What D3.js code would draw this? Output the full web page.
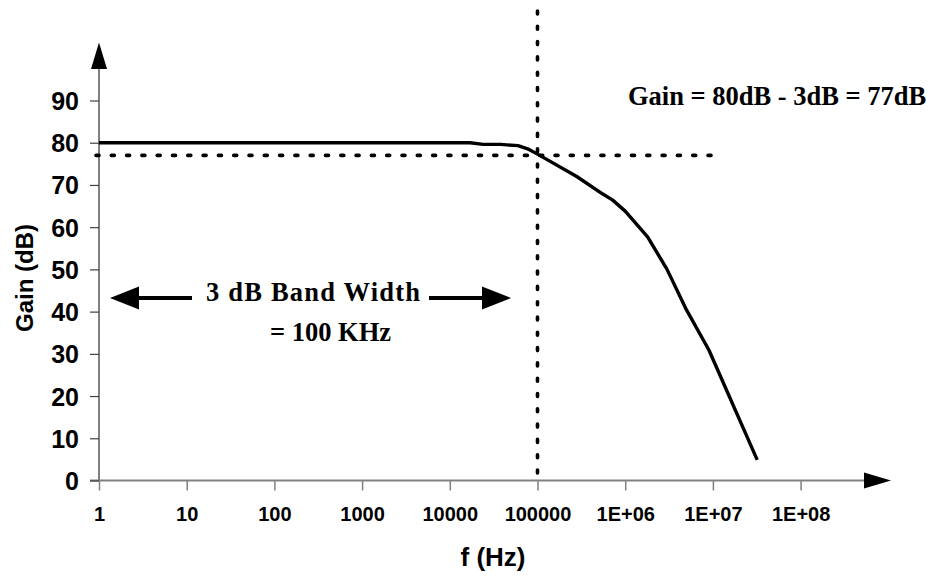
<!DOCTYPE html>
<html>
<head>
<meta charset="utf-8">
<script src="https://cdn.jsdelivr.net/npm/d3@7/dist/d3.min.js"></script>
<style>
  html, body { margin: 0; padding: 0; background: #fff; }
  svg { display: block; }
</style>
</head>
<body>
<svg id="chart" width="936" height="578"></svg>
<script>
// ---- data ----
const freq = [1, 10, 100, 1000, 10000, 17000, 24000, 38000, 60000, 80000, 100000, 280000, 550000, 720000, 1000000, 1800000, 3000000, 5000000, 9000000, 32000000];
const gain = [80, 80, 80, 80, 80, 80, 79.6, 79.6, 79.3, 78.4, 77.3, 72.0, 67.9, 66.4, 63.8, 57.7, 50.0, 40.4, 30.9, 4.9];
const xTickValues = [1, 10, 100, 1000, 10000, 100000, 1e6, 1e7, 1e8];
const xTickLabels = ["1", "10", "100", "1000", "10000", "100000", "1E+06", "1E+07", "1E+08"];
const yTickValues = [0, 10, 20, 30, 40, 50, 60, 70, 80, 90];
const bandwidthFreq = 100000;
const gain3dB = 77;
const gainNote = "Gain = 80dB - 3dB = 77dB";
const bwLine1 = "3 dB Band Width";
const bwLine2 = "= 100 KHz";
const xTitle = "f (Hz)";
const yTitle = "Gain (dB)";

// ---- layout ----
const svg = d3.select("#chart");
const x0 = 99, y0 = 480.5;
const x = d3.scaleLog().domain([1, 1e9]).range([x0, x0 + 9 * 87.7]);
const y = d3.scaleLinear().domain([0, 90]).range([y0, 100.5]);
const axisColor = "#808080";
const sans = "'Liberation Sans', Arial, sans-serif";
const serif = "'Liberation Serif', 'Times New Roman', serif";

// y axis line + arrow
svg.append("line").attr("x1", x0).attr("x2", x0).attr("y1", y0 + 1).attr("y2", 68)
  .attr("stroke", axisColor).attr("stroke-width", 2);
svg.append("path").attr("d", `M${x0},42.5 L${x0 - 8},69 L${x0 + 8},69 Z`).attr("fill", "#000");

// x axis line + arrow
svg.append("line").attr("x1", x0 - 9).attr("x2", 866).attr("y1", y0).attr("y2", y0)
  .attr("stroke", axisColor).attr("stroke-width", 2);
svg.append("path").attr("d", `M891,${y0} L864,${y0 - 8} L864,${y0 + 8} Z`).attr("fill", "#000");

// y axis ticks
const yAxis = d3.axisLeft(y).tickValues(yTickValues).tickSize(9).tickPadding(11).tickFormat(d3.format("d"));
const gy = svg.append("g").attr("transform", `translate(${x0},0)`).call(yAxis);
gy.select(".domain").remove();
gy.selectAll(".tick line").attr("stroke", "#404040").attr("stroke-width", 1.2);
gy.selectAll(".tick text").attr("font-family", sans).attr("font-weight", "bold")
  .attr("font-size", 25).attr("fill", "#000").attr("dy", "0.36em");

// x axis ticks
const xAxis = d3.axisBottom(x).tickValues(xTickValues).tickSize(10).tickPadding(16)
  .tickFormat((d, i) => xTickLabels[i]);
const gx = svg.append("g").attr("transform", `translate(0,${y0})`).call(xAxis);
gx.select(".domain").remove();
gx.selectAll(".tick line").attr("stroke", axisColor).attr("stroke-width", 1.5);
gx.selectAll(".tick text").attr("font-family", sans).attr("font-weight", "bold")
  .attr("font-size", 20).attr("fill", "#000");

// axis titles
svg.append("text").attr("x", 493).attr("y", 566).attr("text-anchor", "middle")
  .attr("font-family", sans).attr("font-weight", "bold").attr("font-size", 26).text(xTitle);
svg.append("text").attr("transform", "translate(33,278) rotate(-90)").attr("text-anchor", "middle")
  .attr("font-family", sans).attr("font-weight", "bold").attr("font-size", 24).text(yTitle);

// reference dashed lines
svg.append("line").attr("x1", x(bandwidthFreq)).attr("x2", x(bandwidthFreq)).attr("y1", 11).attr("y2", 478)
  .attr("stroke", "#000").attr("stroke-width", 3.6).attr("stroke-dasharray", "3 12.3").attr("stroke-linecap", "round");
svg.append("line").attr("x1", 96).attr("x2", 714).attr("y1", y(gain3dB)).attr("y2", y(gain3dB))
  .attr("stroke", "#000").attr("stroke-width", 3.6).attr("stroke-dasharray", "3 12.3").attr("stroke-linecap", "round");

// gain curve
const line = d3.line().x((d, i) => x(freq[i])).y(d => y(d));
svg.append("path").datum(gain).attr("d", line).attr("fill", "none")
  .attr("stroke", "#000").attr("stroke-width", 3.4).attr("stroke-linejoin", "round");

// annotations
svg.append("text").attr("x", 628).attr("y", 105).attr("font-family", serif).attr("font-weight", "bold")
  .attr("font-size", 26.5).text(gainNote);
svg.append("text").attr("x", 313).attr("y", 300.5).attr("text-anchor", "middle").attr("font-family", serif)
  .attr("font-weight", "bold").attr("font-size", 26.5).attr("textLength", 214).attr("lengthAdjust", "spacing").text(bwLine1);
svg.append("text").attr("x", 330.5).attr("y", 341).attr("text-anchor", "middle").attr("font-family", serif)
  .attr("font-weight", "bold").attr("font-size", 26.5).text(bwLine2);

// band width arrows
const ay = 298;
svg.append("line").attr("x1", 137).attr("x2", 192).attr("y1", ay).attr("y2", ay).attr("stroke", "#000").attr("stroke-width", 4);
svg.append("path").attr("d", `M110,${ay} L139,${ay - 11.5} L139,${ay + 11.5} Z`).attr("fill", "#000");
svg.append("line").attr("x1", 429).attr("x2", 484).attr("y1", ay).attr("y2", ay).attr("stroke", "#000").attr("stroke-width", 4);
svg.append("path").attr("d", `M511,${ay} L482,${ay - 11.5} L482,${ay + 11.5} Z`).attr("fill", "#000");
</script>
</body>
</html>
